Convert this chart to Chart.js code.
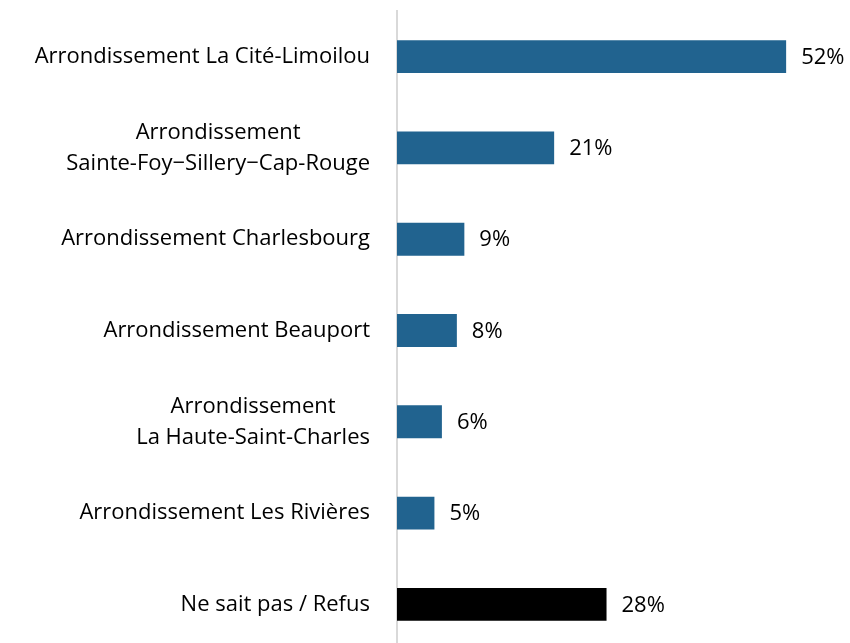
<!DOCTYPE html>
<html>
<head>
<meta charset="utf-8">
<script src="https://cdn.jsdelivr.net/npm/chart.js@4/dist/chart.umd.min.js"></script>
<style>
  html, body { margin: 0; padding: 0; background: #fff; overflow: hidden; }
  #wrap { position: relative; width: 850px; height: 650px; }
</style>
</head>
<body>
<div id="wrap"><canvas id="districtChart"></canvas></div>
<script>
// Arrondissements (labels on several lines where the original wraps them)
const districts = [
    'Arrondissement La Cité-Limoilou',
    ['Arrondissement', 'Sainte-Foy\u2212Sillery\u2212Cap-Rouge'],
    'Arrondissement Charlesbourg',
    'Arrondissement Beauport',
    ['Arrondissement', 'La Haute-Saint-Charles'],
    'Arrondissement Les Rivières',
    'Ne sait pas / Refus'
];
const shares = [52, 21, 9, 8, 6, 5, 28];
const barColors = ['#21638f', '#21638f', '#21638f', '#21638f', '#21638f', '#21638f', '#000000'];

const fontFamily = '"Open Sans", Lato, sans-serif';
const fontSize = 22;
const lineGap = 31;
const labelRight = 370;

// Category labels: block right-aligned, lines centred inside it (like the original)
const categoryLabels = {
    id: 'categoryLabels',
    afterDraw(chart) {
        const ctx = chart.ctx;
        const yScale = chart.scales.y;
        ctx.save();
        ctx.font = `${fontSize}px ${fontFamily}`;
        ctx.fillStyle = '#000';
        ctx.textAlign = 'center';
        ctx.textBaseline = 'middle';
        districts.forEach((label, i) => {
            const lines = Array.isArray(label) ? label : [label];
            const blockWidth = Math.max(...lines.map(l => ctx.measureText(l).width));
            const cx = labelRight - blockWidth / 2;
            const cy = yScale.getPixelForTick(i);
            lines.forEach((line, j) => {
                const y = cy + (j - (lines.length - 1) / 2) * lineGap;
                ctx.fillText(line, cx, y);
            });
        });
        ctx.restore();
    }
};

// Draw the percentage next to each bar
const valueLabels = {
    id: 'valueLabels',
    afterDatasetsDraw(chart) {
        const ctx = chart.ctx;
        const meta = chart.getDatasetMeta(0);
        ctx.save();
        ctx.font = `${fontSize}px ${fontFamily}`;
        ctx.fillStyle = '#000';
        ctx.textAlign = 'left';
        ctx.textBaseline = 'middle';
        meta.data.forEach((bar, i) => {
            ctx.fillText(shares[i] + '%', bar.x + 15, bar.y + 1);
        });
        ctx.restore();
    }
};

const ctx = document.getElementById('districtChart').getContext('2d');
const districtChart = new Chart(ctx, {
    type: 'bar',
    data: {
        labels: districts,
        datasets: [{
            data: shares,
            backgroundColor: barColors,
            categoryPercentage: 1,
            barPercentage: 0.36
        }]
    },
    options: {
        indexAxis: 'y',
        responsive: true,
        maintainAspectRatio: false,
        animation: false,
        layout: { padding: { top: 11, right: 4, bottom: 0, left: 0 } },
        plugins: {
            legend: { display: false },
            tooltip: { enabled: false }
        },
        scales: {
            x: {
                display: false,
                min: 0,
                max: 60
            },
            y: {
                grid: { display: false },
                border: { display: true, color: '#d9d9d9', width: 2 },
                ticks: { display: false },
                afterFit(scale) {
                    scale.width = 397;
                    scale.paddingTop = 0;
                    scale.paddingBottom = 0;
                }
            }
        }
    },
    plugins: [valueLabels, categoryLabels]
});
</script>
</body>
</html>
